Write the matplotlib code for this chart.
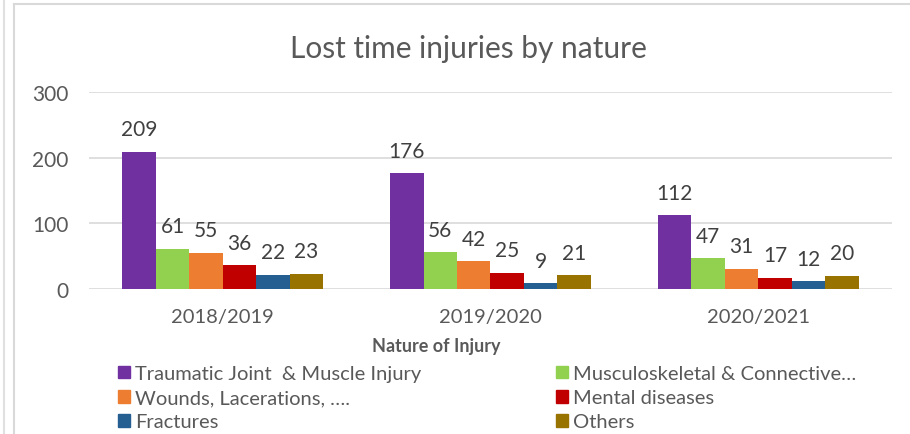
import numpy as np
import matplotlib.pyplot as plt
from matplotlib.patches import Patch
from matplotlib.lines import Line2D

# data
years = ["2018/2019", "2019/2020", "2020/2021"]
traumatic = [209, 176, 112]
musculo = [61, 56, 47]
wounds = [55, 42, 31]
mental = [36, 25, 17]
fractures = [22, 9, 12]
others = [23, 21, 20]

series = [
    ("Traumatic Joint  & Muscle Injury", traumatic, "#7030A0"),
    ("Musculoskeletal & Connective…", musculo, "#92D050"),
    ("Wounds, Lacerations, ….", wounds, "#ED7D31"),
    ("Mental diseases", mental, "#C00000"),
    ("Fractures", fractures, "#255E91"),
    ("Others", others, "#997300"),
]

plt.rcParams['font.family'] = ['Lato', 'DejaVu Sans']
txt = "#595959"

fig = plt.figure(figsize=(9.1, 4.35), dpi=100)
ax = fig.add_axes([89 / 910, 1 - 290 / 435, 803 / 910, 197 / 435])

x = np.arange(len(years))
n = len(series)
w = 0.75 / n
for i, (name, vals, col) in enumerate(series):
    pos = x - 0.375 + w * (i + 0.5)
    bars = ax.bar(pos, vals, width=w, color=col, label=name, zorder=3)
    for b, v in zip(bars, vals):
        ax.annotate(str(v), (b.get_x() + b.get_width() / 2, v),
                    xytext=(0, 9), textcoords="offset points",
                    ha="center", va="bottom", fontsize=15, color="#404040")

ax.set_xlim(-0.5, 2.5)
ax.set_ylim(0, 300)
ax.set_yticks([0, 100, 200, 300])
ax.set_xticks(x)
ax.set_xticklabels(years)
ax.tick_params(axis="both", length=0, labelsize=14.5, colors=txt)
ax.tick_params(axis="x", pad=14)
ax.tick_params(axis="y", pad=15, labelsize=15)
ax.yaxis.grid(True, color="#D9D9D9", linewidth=1.2, zorder=0)
for s in ax.spines.values():
    s.set_visible(False)

fig.text(468 / 910, 1 - 58 / 435, "Lost time injuries by nature",
         ha="center", va="baseline", fontsize=21.5, color=txt)
fig.text(436 / 910, 1 - 347 / 435, "Nature of Injury", ha="center",
         va="center", fontsize=13, fontweight="bold", color=txt)

# legend, filled row-wise like the original
order = [0, 2, 4, 1, 3, 5]
handles = [Patch(color=series[k][2]) for k in order]
labels = [series[k][0] for k in order]
leg = fig.legend(handles, labels, ncol=2, loc="upper left",
                 bbox_to_anchor=(118 / 910, 1 - 366 / 435), frameon=False,
                 fontsize=14.5, handlelength=0.6, handleheight=0.6,
                 handletextpad=0.25, columnspacing=6.7, labelspacing=0.36,
                 borderpad=0, borderaxespad=0)
for t in leg.get_texts():
    t.set_color(txt)

# chart frame lines
fig.add_artist(Line2D([4 / 910, 4 / 910], [0, 1], color="#E0E0E0", lw=1.5))
fig.add_artist(Line2D([14.5 / 910, 14.5 / 910], [0, 1 - 5 / 435], color="#D9D9D9", lw=1.5))
fig.add_artist(Line2D([14.5 / 910, 1], [1 - 5 / 435, 1 - 5 / 435], color="#D9D9D9", lw=1.5))

fig.savefig("out.png", dpi=100)
